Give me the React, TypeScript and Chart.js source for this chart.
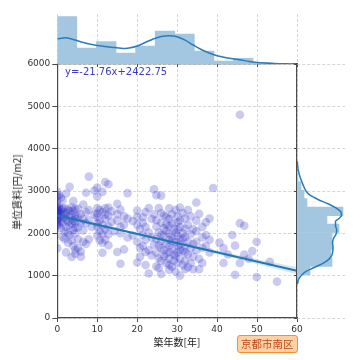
import React, { useEffect, useRef } from "react";
import { Chart, registerables } from "chart.js";
Chart.register(...registerables);

// ---- scatter data: building age [years] columns and unit rents [yen/m2] ----
const ageCols = [
  0.0, 0.4, 0.9, 1.3, 1.8, 2.2, 2.7, 3.1, 3.6, 4.0, 4.5,
  5.2, 5.9, 6.5, 7.2, 7.9, 8.6, 9.3,
  10.0, 10.6, 11.3, 12.0, 12.8, 13.6, 14.3,
  15.0, 15.8, 16.7, 17.6, 18.9,
  20.0, 20.7, 21.4, 22.1, 22.9, 23.6, 24.2,
  24.8, 25.4, 26.0, 26.7, 27.3, 28.0, 28.7, 29.2,
  29.6, 30.1, 30.7, 31.4, 32.0, 32.7, 33.4, 34.0,
  34.8, 35.5, 36.3, 37.2, 38.1, 39.0,
  40.6, 41.6, 42.7, 43.8,
  44.5, 45.7, 46.8, 47.9, 48.8,
  49.9, 53.2, 55.0,
];
const rentCols = [
  [2980, 2880, 2770, 2660, 2610, 2575, 2545, 2515, 2490, 2465, 2440, 2400, 2370, 2330, 2290, 2240, 2180, 1650],
  [2900, 2620, 2530, 2455, 2360, 2210],
  [2840, 2560, 2480, 2300, 2120],
  [2790, 2590, 2420, 2250, 1920],
  [2600, 2500, 2370, 2050, 1870],
  [2940, 2470, 2330, 2150, 1550],
  [2560, 2280, 2010, 1780],
  [3100, 2520, 2390, 2190, 1960],
  [2610, 2450, 2230, 1830, 1440],
  [2760, 2540, 2300, 2080, 1700],
  [2580, 2410, 2000, 1520, 1610, 2260, 2350, 2130],
  [2580, 2390, 2140, 1860, 1660],
  [2450, 1570, 1450, 2250],
  [2680, 2330, 2070, 1800],
  [2960, 2500, 2240, 1750],
  [3340, 2550, 2310, 1860],
  [2150],
  [3010, 2440],
  [3080, 2870, 2600, 2470, 2380, 2240, 2150, 1950],
  [2550, 2300, 2050, 1840],
  [2980, 2500, 2200, 1990, 1780, 1540],
  [3210, 2590, 2440, 2340, 2100, 1850],
  [3160, 2610, 2420, 2160, 1980, 1720],
  [2520, 2270],
  [2050],
  [2700, 2450, 2300, 1560],
  [2560, 2150, 2000, 1280],
  [2400, 2200, 1620],
  [2950, 2350, 1900],
  [2290, 1950],
  [2540, 2390, 2200, 1800, 1310],
  [2100, 1660, 1450],
  [2380, 2250, 1960, 1700],
  [2500, 2150, 1850, 1560, 1250],
  [2600, 2020, 1600, 1050],
  [2340, 1900, 1480],
  [3040, 2450, 1730],
  [2900, 2310, 2160, 1870, 1540, 1220],
  [2600, 2020, 1720, 1410, 1180],
  [2890, 2480, 2250, 1960, 1820, 1650, 1350, 1040],
  [2420, 2120, 1940, 1600, 1460],
  [2390, 2210, 2060, 1760, 1300, 1510],
  [2590, 2340, 2170, 1990, 1850, 1700, 1560, 1400, 1250, 1140],
  [2450, 2240, 1920, 1820, 1640, 1210],
  [2110, 1500, 1360],
  [2550, 2010, 1790, 1470, 1100],
  [2400, 2260, 2090, 1940, 1700, 1550, 1300],
  [2610, 2300, 2150, 1850, 1740, 1610, 1400, 1000],
  [2480, 2000, 1880, 1590, 1250],
  [2350, 2110, 1910, 1690, 1550, 1350, 1150],
  [2550, 2200, 1800, 1500, 1200],
  [2400, 1980, 1650, 1300],
  [2100, 1750, 1450, 1150],
  [2730, 2300, 2050, 1800, 1600],
  [2460, 1400, 1150],
  [2150, 1900, 1660, 1300],
  [2260, 1960, 1700],
  [2350, 1850, 1550],
  [3070],
  [1780],
  [1650, 1300],
  [1500],
  [1960],
  [1710, 1020],
  [2240, 1300, 4800],
  [2180, 1500],
  [1400],
  [1580],
  [1800, 970],
  [1330],
  [860],
];

// ---- regression line and confidence band ----
const regX = [0, 60];
const regY = [2422.75, 1117.15];
const bandX = [0, 10, 20, 30, 40, 50, 60];
const bandLow = [2368, 2170, 1963, 1743, 1512, 1275, 1032];
const bandHigh = [2478, 2240, 2013, 1797, 1592, 1395, 1202];
const equationText = "y=-21.76x+2422.75";

// ---- top marginal (age) histogram + KDE ----
const topBinStart = 0;
const topBinWidth = 4.9;
const topHist = [47.3, 16, 22.3, 11, 18, 33, 30, 13, 3, 5.7, 1.3, 0.7];
const topKdeX = [0, 2, 4, 6, 8, 10, 12, 14, 16, 17, 18, 20, 22, 24, 26, 28, 30, 32, 34, 36, 38, 40, 42, 44, 46, 48, 50, 52, 54, 56, 58, 60];
const topKdeY = [25.2, 26.2, 24.5, 22, 20, 18.5, 17.5, 16.6, 15.8, 15.6, 16, 18, 21.5, 25, 27.5, 28.3, 27.3, 23.8, 19, 14.5, 11, 8.3, 6.5, 5.2, 4, 2.6, 1.6, 0.9, 0.4, 0.2, 0.1, 0];

// ---- right marginal (rent) histogram + KDE ----
const rightBinStart = 820;
const rightBinWidth = 200;
const rightHist = [1.5, 13, 35, 34, 36, 35, 42, 30, 46, 10, 7, 4, 1];
const rightKdeY = [800, 900, 1000, 1100, 1180, 1280, 1380, 1480, 1580, 1680, 1780, 1880, 1980, 2080, 2180, 2280, 2350, 2420, 2500, 2600, 2700, 2800, 2900, 3000, 3150, 3300, 3500, 3700];
const rightKdeX = [0.3, 1.2, 4, 9, 16, 25, 31.5, 34.7, 35.8, 36, 35.5, 36.5, 39, 39.7, 38.5, 38.5, 42, 44.5, 44, 39, 31, 21, 13, 9, 6, 3.5, 1.2, 0.3];

// ---- axes ----
const xMin = 0, xMax = 60, xStep = 10;
const yMin = 0, yMax = 6000, yStep = 1000;
const xTitle = "築年数[年]";
const yTitle = "単位賃料[円/m2]";
const areaLabel = "京都市南区";

const HIST_FILL = "rgb(163,199,225)";
const KDE_COLOR = "#2b7bba";
const GRID = "#cdcdcd";
const SPINE = "#4a4a4a";
const TICK_FONT = { family: "DejaVu Sans", size: 9 };

const common: any = {
  responsive: false,
  maintainAspectRatio: false,
  animation: false,
  devicePixelRatio: 1,
  events: [],
  plugins: { legend: { display: false }, tooltip: { enabled: false } },
};

const plain = (v: any) => String(v);

export default function App() {
  const mainRef = useRef<HTMLCanvasElement>(null);
  const topRef = useRef<HTMLCanvasElement>(null);
  const rightRef = useRef<HTMLCanvasElement>(null);

  useEffect(() => {
    const pts = ageCols.flatMap((a, i) => rentCols[i].map((r) => ({ x: a, y: r })));

    const main = new Chart(mainRef.current!, {
      type: "scatter",
      data: {
        datasets: [
          {
            type: "line",
            data: regX.map((x, i) => ({ x, y: regY[i] })),
            borderColor: "#1f77b4",
            borderWidth: 2,
            pointRadius: 0,
            fill: false,
            order: 0,
          } as any,
          {
            type: "line",
            data: bandX.map((x, i) => ({ x, y: bandHigh[i] })),
            borderWidth: 0,
            pointRadius: 0,
            tension: 0.4,
            fill: "+1",
            backgroundColor: "rgba(31,119,180,0.18)",
            order: 1,
          } as any,
          {
            type: "line",
            data: bandX.map((x, i) => ({ x, y: bandLow[i] })),
            borderWidth: 0,
            pointRadius: 0,
            tension: 0.4,
            fill: false,
            order: 2,
          } as any,
          {
            type: "scatter",
            data: pts,
            backgroundColor: "rgba(45,45,200,0.25)",
            borderWidth: 0,
            pointRadius: 4.3,
            clip: 0,
            order: 3,
          } as any,
        ],
      },
      options: {
        ...common,
        layout: { padding: { left: 0, top: 64, right: 63, bottom: 0 } },
        scales: {
          x: {
            type: "linear",
            min: xMin,
            max: xMax,
            ticks: { stepSize: xStep, color: "#333", font: TICK_FONT, padding: 2, maxRotation: 0, callback: plain },
            grid: { color: GRID, lineWidth: 0.8, tickColor: SPINE, tickLength: 4, tickWidth: 1, tickBorderDash: [] },
            border: { color: SPINE, width: 1.2, dash: [3, 2] },
            afterFit: (s: any) => { s.height = 42; },
          },
          y: {
            type: "linear",
            min: yMin,
            max: yMax,
            ticks: { stepSize: yStep, color: "#333", font: TICK_FONT, padding: 2, callback: plain },
            grid: { color: GRID, lineWidth: 0.8, tickColor: SPINE, tickLength: 5, tickWidth: 1, tickBorderDash: [] },
            border: { color: SPINE, width: 1.2, dash: [3, 2] },
            afterFit: (s: any) => { s.width = 57.3; },
          },
        },
      } as any,
    });

    const top = new Chart(topRef.current!, {
      type: "bar",
      data: {
        datasets: [
          {
            type: "line",
            data: topKdeX.map((x, i) => ({ x, y: topKdeY[i] })),
            borderColor: KDE_COLOR,
            borderWidth: 1.5,
            pointRadius: 0,
            cubicInterpolationMode: "monotone",
            fill: false,
          } as any,
          {
            type: "bar",
            data: topHist.map((h, i) => ({ x: topBinStart + topBinWidth * (i + 0.5), y: h })),
            backgroundColor: HIST_FILL,
            borderWidth: 0,
            barPercentage: 1,
            categoryPercentage: 1,
          } as any,
        ],
      },
      options: {
        ...common,
        layout: { padding: { left: 57.3, top: 14, right: 63, bottom: 296 } },
        scales: {
          x: {
            type: "linear",
            min: xMin,
            max: xMax,
            offset: false,
            ticks: { stepSize: xStep, display: false },
            grid: { offset: false, color: GRID, lineWidth: 0.8, tickColor: SPINE, tickLength: 3, tickWidth: 1, tickBorderDash: [] },
            border: { color: SPINE, width: 1.2, dash: [3, 2] },
            afterFit: (s: any) => { s.height = 0; },
          },
          y: { type: "linear", min: 0, max: 50, display: false },
        },
      } as any,
    });

    const right = new Chart(rightRef.current!, {
      type: "bar",
      data: {
        datasets: [
          {
            type: "line",
            indexAxis: "y",
            data: rightKdeY.map((y, i) => ({ x: rightKdeX[i], y })),
            borderColor: KDE_COLOR,
            borderWidth: 1.5,
            pointRadius: 0,
            cubicInterpolationMode: "monotone",
            fill: false,
          } as any,
          {
            type: "bar",
            data: rightHist.map((h, i) => ({ y: rightBinStart + rightBinWidth * (i + 0.5), x: h })),
            backgroundColor: HIST_FILL,
            borderWidth: 0,
            barPercentage: 1,
            categoryPercentage: 1,
          } as any,
        ],
      },
      options: {
        ...common,
        indexAxis: "y",
        layout: { padding: { left: 297, top: 64, right: 15, bottom: 42 } },
        scales: {
          y: {
            type: "linear",
            min: yMin,
            max: yMax,
            offset: false,
            ticks: { stepSize: yStep, display: false },
            grid: { offset: false, color: GRID, lineWidth: 0.8, tickColor: SPINE, tickLength: 3, tickWidth: 1, tickBorderDash: [] },
            border: { color: SPINE, width: 1.2, dash: [3, 2] },
            afterFit: (s: any) => { s.width = 0; },
          },
          x: { type: "linear", min: 0, max: 48, display: false },
        },
      } as any,
    });

    return () => {
      main.destroy();
      top.destroy();
      right.destroy();
    };
  }, []);

  const cv: React.CSSProperties = { position: "absolute", left: 0, top: 0, width: 360, height: 360 };
  return (
    <div style={{ position: "absolute", left: 0, top: 0, width: 360, height: 360, background: "#fff", overflow: "hidden" }}>
      <canvas ref={mainRef} width={360} height={360} style={cv} />
      <canvas ref={topRef} width={360} height={360} style={cv} />
      <canvas ref={rightRef} width={360} height={360} style={cv} />
      <div style={{ position: "absolute", left: 65, top: 66, font: '10px "DejaVu Sans"', lineHeight: "12px", color: "#3c3cc8", whiteSpace: "nowrap" }}>
        {equationText}
      </div>
      <div style={{ position: "absolute", left: 177, top: 342, transform: "translate(-50%,-50%)", font: '10px "Noto Sans CJK JP"', lineHeight: "12px", color: "#222", whiteSpace: "nowrap" }}>
        {xTitle}
      </div>
      <div style={{ position: "absolute", left: 17, top: 192, transform: "translate(-50%,-50%) rotate(-90deg)", font: '10px "Noto Sans CJK JP"', lineHeight: "12px", color: "#222", whiteSpace: "nowrap" }}>
        {yTitle}
      </div>
      <div style={{ position: "absolute", left: 237, top: 335, height: 18, boxSizing: "border-box", padding: "0 3px", border: "1.5px solid #ff8a2a", borderRadius: 3, background: "#ffd2a6", color: "#bf4a1c", font: '10.5px "Noto Sans CJK JP"', lineHeight: "15px", whiteSpace: "nowrap" }}>
        {areaLabel}
      </div>
    </div>
  );
}
